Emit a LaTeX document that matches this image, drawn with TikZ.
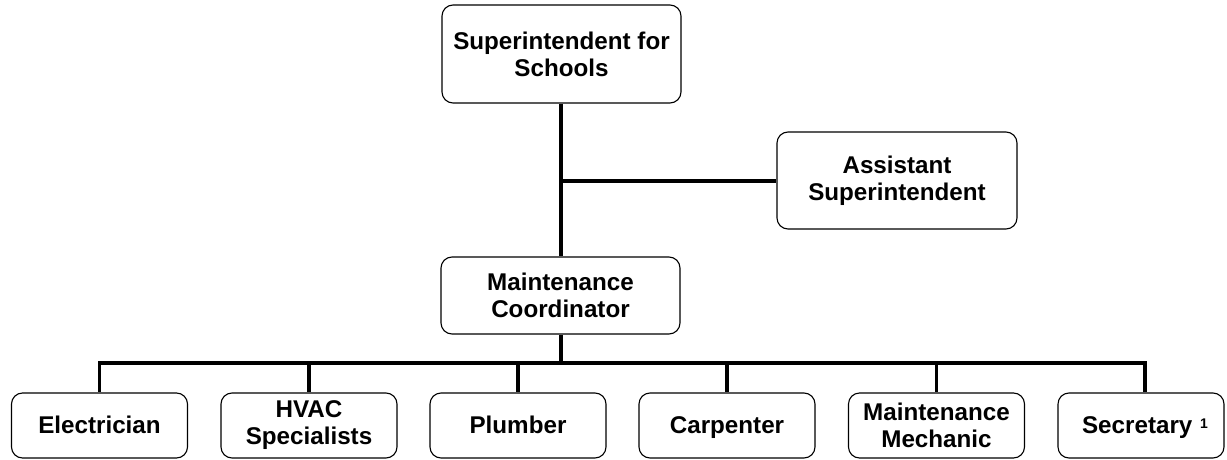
\documentclass[tikz,border=0pt]{standalone}
\usepackage{fontspec}
\setmainfont{Liberation Sans}
\newcommand{\notemark}[1]{\hspace{1pt}{\fontsize{14}{14}\selectfont\raisebox{4.5pt}{#1}}}
\begin{document}
\begin{tikzpicture}[x=1pt,y=-1pt,
  box/.style={draw=black, line width=1.1pt, rounded corners=11pt, fill=white,
    align=center, font=\fontsize{24.2}{27}\selectfont\bfseries, inner sep=0pt},
  trade/.style={box, minimum width=176pt, minimum height=65pt},
  oneline/.style={text height=20pt, text depth=5pt},
  link/.style={line width=3.8pt}]
\useasboundingbox (0,0) rectangle (1227,460);

% top levels
\node[box, minimum width=239pt, minimum height=98pt] (sup) at (561.5,54) {Superintendent for\\Schools};
\node[box, minimum width=240pt, minimum height=97pt] (asst) at (897,180.5) {Assistant\\Superintendent};
\node[box, minimum width=239pt, minimum height=77pt] (coord) at (560.5,295.5) {Maintenance\\Coordinator};

% trades
\node[trade, oneline] (elec) at (99.5,425.5) {Electrician};
\node[trade] (hvac) at (309,425.5) {HVAC\\Specialists};
\node[trade, oneline] (plum) at (518,425.5) {Plumber};
\node[trade, oneline] (carp) at (727,425.5) {Carpenter};
\node[trade] (mech) at (936.5,425.5) {Maintenance\\Mechanic};
\node[trade, oneline, minimum width=166pt] (secr) at (1141,425.5) {\hspace*{8pt}Secretary \notemark{1}};

% connectors
\coordinate (tee) at (561,181);
\coordinate (bus) at (561,363);
\draw[link] (sup.south -| tee) -- (coord.north -| tee);
\draw[link] (tee) -- (asst.west |- tee);
\draw[link] (coord.south -| bus) -- (bus);
\draw[link, line cap=rect] (99.5,363) coordinate (busL) -- (1145,363) coordinate (busR);
\foreach \n/\x in {elec/99.5, hvac/309, plum/518, carp/727, mech/936.5, secr/1145}
  \draw[link] (\x,363) -- (\x,0 |- \n.north);
\end{tikzpicture}
\end{document}
